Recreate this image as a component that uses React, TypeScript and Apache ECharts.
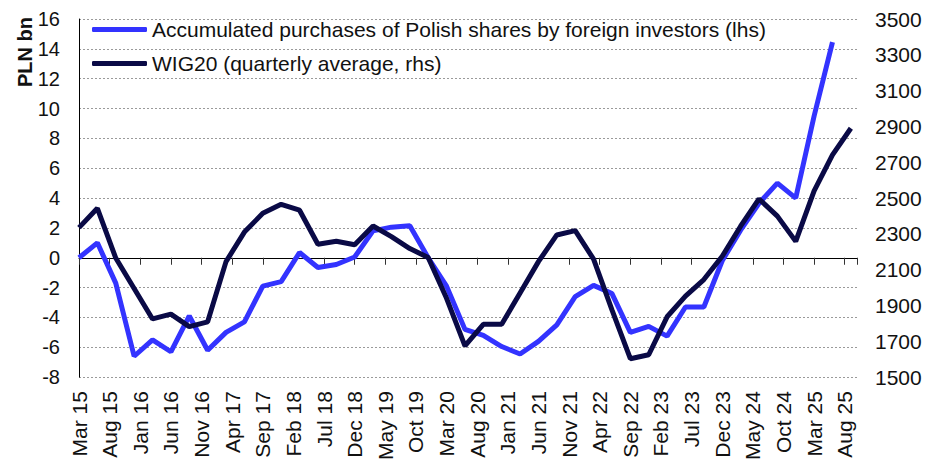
import React, { useEffect, useRef } from "react";
import * as echarts from "echarts";

const tickLabels = [
  "Mar 15", "Aug 15", "Jan 16", "Jun 16", "Nov 16", "Apr 17", "Sep 17", "Feb 18", "Jul 18",
  "Dec 18", "May 19", "Oct 19", "Mar 20", "Aug 20", "Jan 21", "Jun 21", "Nov 21", "Apr 22",
  "Sep 22", "Feb 23", "Jul 23", "Dec 23", "May 24", "Oct 24", "Mar 25", "Aug 25",
];

const quarterDates = [
  "2015-03", "2015-06", "2015-09", "2015-12",
  "2016-03", "2016-06", "2016-09", "2016-12",
  "2017-03", "2017-06", "2017-09", "2017-12",
  "2018-03", "2018-06", "2018-09", "2018-12",
  "2019-03", "2019-06", "2019-09", "2019-12",
  "2020-03", "2020-06", "2020-09", "2020-12",
  "2021-03", "2021-06", "2021-09", "2021-12",
  "2022-03", "2022-06", "2022-09", "2022-12",
  "2023-03", "2023-06", "2023-09", "2023-12",
  "2024-03", "2024-06", "2024-09", "2024-12",
  "2025-03", "2025-06", "2025-09",
];

// Accumulated purchases of Polish shares by foreign investors, PLN bn (lhs)
const foreignPurchases = [
  0, 1.0, -1.7, -6.6, -5.5, -6.3, -3.9, -6.2, -5.0, -4.3, -1.9, -1.6, 0.35, -0.65,
  -0.45, 0.05, 1.8, 2.05, 2.15, 0.0, -1.9, -4.8, -5.2, -5.95, -6.45, -5.6, -4.5, -2.6,
  -1.85, -2.4, -5.0, -4.6, -5.25, -3.3, -3.3, -0.2, 1.85, 3.65, 5.0, 4.0, 9.5, 14.45,
];

// WIG20, quarterly average (rhs)
const wig20 = [
  2335, 2443, 2165, 1995, 1825, 1852, 1782, 1809, 2145, 2310, 2415, 2465, 2432, 2242,
  2259, 2239, 2344, 2285, 2218, 2168, 1940, 1675, 1795, 1795, 1970, 2145, 2294, 2318,
  2159, 1876, 1603, 1625, 1837, 1952, 2045, 2175, 2343, 2495, 2399, 2258, 2540, 2741,
  2890,
];

const seriesNames = [
  "Accumulated purchases of Polish shares by foreign investors (lhs)",
  "WIG20 (quarterly average, rhs)",
];

const monthIndex = (d: string) => {
  const [y, m] = d.split("-").map(Number);
  return (y - 2015) * 12 + (m - 3);
};

const FONT = "Liberation Sans, Arial, sans-serif";
const TEXT = "#111";

export default function App() {
  const ref = useRef<HTMLDivElement>(null);

  useEffect(() => {
    if (!ref.current) return;
    const chart = echarts.init(ref.current, undefined, { renderer: "svg" });

    const xLabelFmt = (v: number) => {
      if (v % 5 !== 0) return "";
      const i = v / 5;
      return i < tickLabels.length ? tickLabels[i] : "";
    };

    chart.setOption({
      animation: false,
      textStyle: { fontFamily: FONT },
      grid: { left: 79, right: 68, top: 19, bottom: 82, containLabel: false },
      legend: {
        orient: "vertical",
        left: 92,
        top: 19,
        padding: 0,
        itemWidth: 55,
        itemHeight: 5,
        itemGap: 13,
        icon: "roundRect",
        textStyle: { fontSize: 21, color: TEXT, fontFamily: FONT },
        data: seriesNames,
      },
      graphic: [
        {
          type: "text",
          x: 25,
          y: 52,
          rotation: Math.PI / 2,
          style: {
            text: "PLN bn",
            font: `bold 20px ${FONT}`,
            fill: TEXT,
            textAlign: "center",
            textVerticalAlign: "middle",
          },
        },
      ],
      xAxis: [
        {
          type: "value",
          min: 0,
          max: 127,
          interval: 5,
          position: "bottom",
          axisLine: { show: true, onZero: true, onZeroAxisIndex: 0, lineStyle: { color: "#000", width: 1 } },
          axisTick: { show: true, length: 7, lineStyle: { color: "#333", width: 1 } },
          axisLabel: { show: false },
          splitLine: { show: false },
        },
        {
          type: "value",
          min: 0,
          max: 127,
          interval: 5,
          position: "bottom",
          axisLine: { show: false, onZero: false },
          axisTick: { show: false },
          axisLabel: {
            show: true,
            rotate: 90,
            margin: 14,
            fontSize: 21,
            color: TEXT,
            fontFamily: FONT,
            formatter: xLabelFmt,
            showMaxLabel: false,
          },
          splitLine: { show: false },
        },
      ],
      yAxis: [
        {
          type: "value",
          min: -8,
          max: 16,
          interval: 2,
          position: "left",
          axisLine: { show: true, onZero: false, lineStyle: { color: "#000", width: 1 } },
          axisTick: { show: false },
          axisLabel: { margin: 19, fontSize: 20, color: TEXT, fontFamily: FONT },
          splitLine: { show: true, lineStyle: { color: "#9a9a9a", type: [2, 2], width: 1 } },
        },
        {
          type: "value",
          min: 1500,
          max: 3500,
          interval: 200,
          position: "right",
          axisLine: { show: false },
          axisTick: { show: false },
          axisLabel: {
            margin: 18,
            fontSize: 21,
            color: TEXT,
            fontFamily: FONT,
            formatter: (v: number) => String(v),
          },
          splitLine: { show: false },
        },
      ],
      series: [
        {
          name: seriesNames[0],
          type: "line",
          xAxisIndex: 0,
          yAxisIndex: 0,
          showSymbol: false,
          symbol: "none",
          color: "#3333ff",
          lineStyle: { color: "#3333ff", width: 5 },
          data: foreignPurchases.map((v, i) => [monthIndex(quarterDates[i]), v]),
        },
        {
          name: seriesNames[1],
          type: "line",
          xAxisIndex: 0,
          yAxisIndex: 1,
          showSymbol: false,
          symbol: "none",
          color: "#0a0a46",
          lineStyle: { color: "#0a0a46", width: 5 },
          data: wig20.map((v, i) => [monthIndex(quarterDates[i]), v]),
        },
      ],
    });

    return () => chart.dispose();
  }, []);

  return (
    <div
      ref={ref}
      style={{ position: "absolute", left: 0, top: 0, width: 925, height: 463 }}
    />
  );
}
